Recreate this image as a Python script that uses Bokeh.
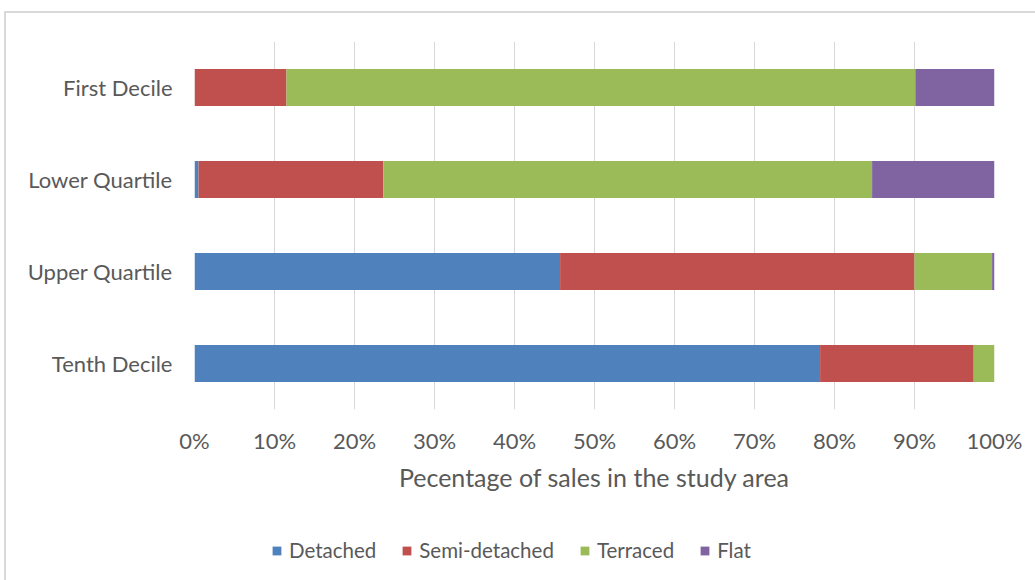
from bokeh.plotting import figure
from bokeh.layouts import column
from bokeh.models import (ColumnDataSource, FactorRange, FixedTicker,
                          PrintfTickFormatter, Legend, LegendItem)
from bokeh.embed import file_html
from bokeh.resources import INLINE

# Share of sales by property type within each price band (percent)
bands = ["Tenth Decile", "Upper Quartile", "Lower Quartile", "First Decile"]
detached = [78.2, 45.7, 0.5, 0.0]
semi_detached = [19.2, 44.3, 23.1, 11.5]
terraced = [2.6, 9.7, 61.1, 78.6]
flat = [0.0, 0.3, 15.3, 9.9]

series = ["Detached", "Semi-detached", "Terraced", "Flat"]
colors = ["#4F81BD", "#C0504D", "#9BBB59", "#8064A2"]
x_ticks = [0, 10, 20, 30, 40, 50, 60, 70, 80, 90, 100]

FONT = "Lato"
TEXT = "#595959"
GRID = "#D9D9D9"

source = ColumnDataSource(dict(
    band=bands,
    Detached=detached,
    **{"Semi-detached": semi_detached},
    Terraced=terraced,
    Flat=flat,
))

p = figure(
    width=1029, height=497,
    y_range=FactorRange(*bands, range_padding=0),
    x_range=(0, 100),
    output_backend="svg", toolbar_location=None,
    min_border_left=188, min_border_right=41,
    min_border_top=28, min_border_bottom=101,
)
p.outline_line_color = None
p.background_fill_color = "white"
p.border_fill_color = "white"

p.hbar_stack(series, y="band", height=0.4, color=colors,
             line_color=None, source=source)

# x axis: percentages with vertical gridlines
p.xaxis.ticker = FixedTicker(ticks=x_ticks)
p.xaxis.formatter = PrintfTickFormatter(format="%d%%")
p.xaxis.axis_line_color = None
p.xaxis.major_tick_line_color = None
p.xaxis.minor_tick_line_color = None
p.xaxis.major_label_text_font = FONT
p.xaxis.major_label_text_font_size = "22px"
p.xaxis.major_label_text_color = TEXT
p.xaxis.major_label_standoff = 11
p.xaxis.axis_label = "Pecentage of sales in the study area"
p.xaxis.axis_label_text_font = FONT
p.xaxis.axis_label_text_font_size = "25px"
p.xaxis.axis_label_text_font_style = "normal"
p.xaxis.axis_label_text_color = TEXT
p.xaxis.axis_label_standoff = 5

p.xgrid.grid_line_color = GRID
p.xgrid.grid_line_width = 1
p.ygrid.grid_line_color = None

# y axis: price bands
p.yaxis.axis_line_color = None
p.yaxis.major_tick_line_color = None
p.yaxis.minor_tick_line_color = None
p.yaxis.major_label_text_font = FONT
p.yaxis.major_label_text_font_size = "22px"
p.yaxis.major_label_text_color = TEXT
p.yaxis.major_label_standoff = 16

# legend strip under the chart; its stacked bars are hidden and only
# lend their colours to the legend swatches
lp = figure(
    width=1029, height=70,
    y_range=FactorRange(*bands, range_padding=0), x_range=(0, 100),
    output_backend="svg", toolbar_location=None,
    x_axis_location=None, y_axis_location=None,
    min_border=0,
)
lp.outline_line_color = None
lp.grid.visible = False
lp.background_fill_color = "white"
lp.border_fill_color = "white"

swatches = lp.hbar_stack(series, y="band", height=0.4, color=colors,
                         line_color=None, source=source)
for r in swatches:
    r.visible = False

legend = Legend(
    items=[LegendItem(label=s, renderers=[r]) for s, r in zip(series, swatches)],
    orientation="horizontal",
    location=(77, 18),
    border_line_color=None,
    background_fill_alpha=0,
    inactive_fill_alpha=0,
    padding=0,
    margin=0,
    spacing=25,
    label_standoff=7,
    glyph_width=11,
    glyph_height=11,
    label_text_font=FONT,
    label_text_font_size="20.5px",
    label_text_color=TEXT,
)
lp.add_layout(legend, "center")

layout = column(
    p, lp, spacing=0,
    styles={
        "margin-left": "4px", "margin-top": "11px",
        "border-left": f"2px solid {GRID}", "border-top": f"2px solid {GRID}",
    },
)

open("out.html", "w").write(file_html(layout, INLINE))
